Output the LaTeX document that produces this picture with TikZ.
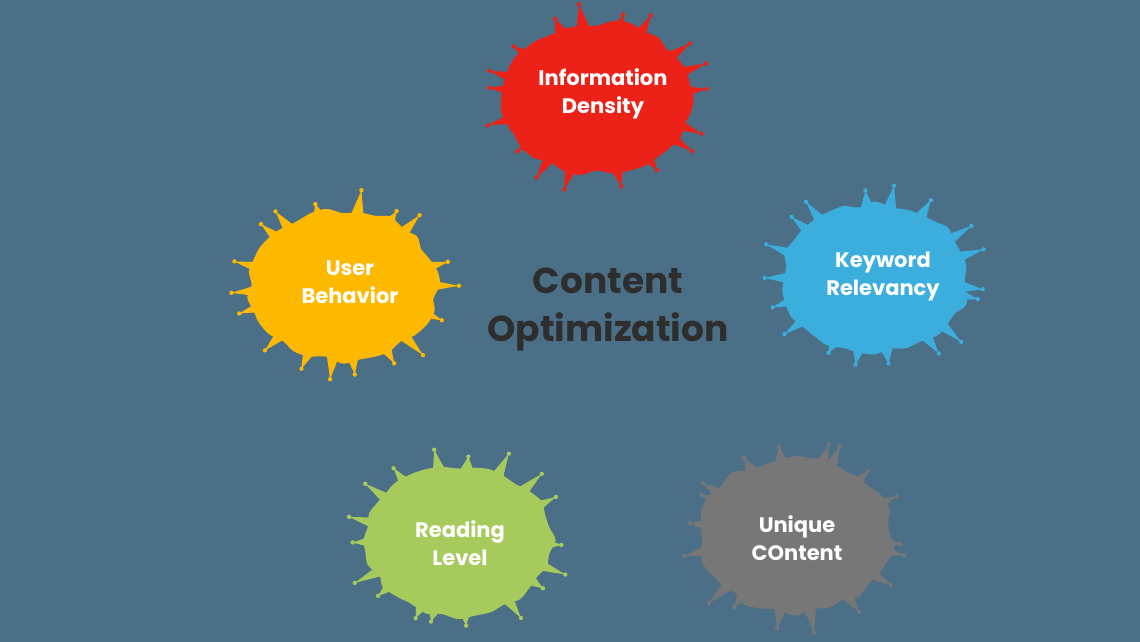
\documentclass[tikz,border=0pt]{standalone}
\usepackage{fontspec}
\setmainfont{Poppins}
\usepackage{tikz}
\definecolor{bgslate}{HTML}{4C6F88}
\definecolor{splatred}{HTML}{EC2219}
\definecolor{splatblue}{HTML}{3BAEDD}
\definecolor{splatyellow}{HTML}{FDB800}
\definecolor{splatgreen}{HTML}{A6CB5C}
\definecolor{splatgray}{HTML}{777777}
\definecolor{titlegray}{HTML}{2E2E2E}
\tikzset{
	label text/.style = {text = white, font = \fontsize{21}{28}\selectfont\bfseries, align = center},
	title text/.style = {text = titlegray, font = \fontsize{36}{48}\selectfont\bfseries, align = center},
	pics/splat/.style args = {#1/#2/#3}{code = {
		\pgfmathsetseed{#3}
		\fill [#1] plot [smooth cycle, samples = 36, domain = 0:350]
			({(#2+4*rand)*cos(\x)}, {(0.8*#2+4*rand)*sin(\x)});
		\foreach \a in {0,20,...,340}{
			\pgfmathsetmacro{\b}{\a+8*rand}
			\pgfmathsetmacro{\len}{8+14*rnd}
			\fill [#1] ({0.95*#2*cos(\b-4)}, {0.76*#2*sin(\b-4)})
				-- ({(#2+\len)*cos(\b)}, {(0.8*#2+\len)*sin(\b)})
				-- ({0.95*#2*cos(\b+4)}, {0.76*#2*sin(\b+4)}) -- cycle;
			\fill [#1] ({(#2+\len)*cos(\b)}, {(0.8*#2+\len)*sin(\b)}) circle (2.2);
		}
	}}
}
\begin{document}
\begin{tikzpicture}[x = 1pt, y = -1pt]
	\fill [bgslate] (0,0) rectangle (1140,642);
	\useasboundingbox (0,0) rectangle (1140,642);
	% splats
	\pic at (597,98) {splat = splatred/95/11};
	\pic at (875,278) {splat = splatblue/94/23};
	\pic at (343,285) {splat = splatyellow/94/37};
	\pic at (458,540) {splat = splatgreen/94/41};
	\pic at (795,535) {splat = splatgray/97/53};
	% labels
	\node [label text] (density) at (603,94) {Information\\Density};
	\node [label text] (keyword) at (883,277) {Keyword\\Relevancy};
	\node [label text] (behavior) at (350,282) {User\\Behavior};
	\node [label text] (reading) at (460,543) {Reading\\Level};
	\node [label text] (unique) at (797,538) {Unique\\COntent};
	\node [title text] (content) at (608,310) {Content\\Optimization};
\end{tikzpicture}
\end{document}
